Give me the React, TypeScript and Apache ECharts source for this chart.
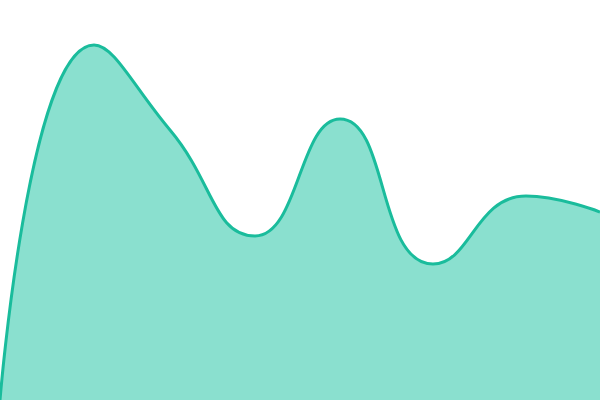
import React, { useEffect, useRef } from 'react';
import * as echarts from 'echarts';

// x positions of the samples (value axis 0..600, unlabelled in the picture)
const xValues = [0, 94, 170, 255, 340, 433, 526, 600];
// series values (y range 0..400)
const yValues = [0, 355, 270, 164, 281, 136, 204, 188];

const App: React.FC = () => {
  const chartRef = useRef<HTMLDivElement>(null);

  useEffect(() => {
    const chart = echarts.init(chartRef.current!, null, { renderer: 'svg' });

    const options = {
      animation: false,
      grid: { left: 0, right: 0, top: 0, bottom: 0 },
      xAxis: {
        type: 'value',
        min: 0,
        max: 600,
        show: false,
      },
      yAxis: {
        type: 'value',
        min: 0,
        max: 400,
        show: false,
      },
      series: [
        {
          type: 'line',
          data: xValues.map((x, i) => [x, yValues[i]]),
          smooth: true,
          symbol: 'none',
          lineStyle: { color: '#1abc9c', width: 3 },
          areaStyle: { color: '#8ae0cf', opacity: 1 },
        },
      ],
    };

    chart.setOption(options);

    return () => {
      chart.dispose();
    };
  }, []);

  return (
    <div
      ref={chartRef}
      style={{
        position: 'fixed',
        left: 0,
        top: 0,
        width: '600px',
        height: '400px',
      }}
    />
  );
};

export default App;
